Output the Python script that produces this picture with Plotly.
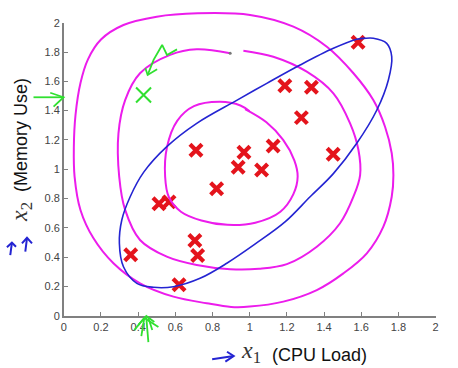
import plotly.graph_objects as go

W, H = 458, 368

# ---- data: red training examples ----
cpu_load = [1.583, 1.189, 1.332, 1.278, 1.126, 1.449, 0.711, 0.969, 0.938, 1.064,
            0.822, 0.512, 0.566, 0.705, 0.720, 0.360, 0.620]
memory_use = [1.866, 1.570, 1.559, 1.352, 1.159, 1.102, 1.130, 1.116, 1.014, 0.995,
              0.866, 0.764, 0.777, 0.514, 0.411, 0.416, 0.211]

# anomalous example (green)
anomaly_x = [0.429]
anomaly_y = [1.507]

tick_vals = [0, 0.2, 0.4, 0.6, 0.8, 1, 1.2, 1.4, 1.6, 1.8, 2]
tick_text = ["0", "0.2", "0.4", "0.6", "0.8", "1", "1.2", "1.4", "1.6", "1.8", "2"]

# ---- hand-drawn annotation curves (traced, data units) ----
inner_x = [0.975, 1.09, 1.18, 1.24, 1.258, 1.235, 1.165, 1.03, 0.88, 0.74, 0.63, 0.565,
           0.545, 0.555, 0.61, 0.70, 0.84, 0.95, 1.0]
inner_y = [1.41, 1.32, 1.20, 1.06, 0.95, 0.83, 0.71, 0.635, 0.62, 0.65, 0.71, 0.81,
           0.95, 1.15, 1.33, 1.43, 1.46, 1.435, 1.395]

middle_x = [0.966, 1.127, 1.307, 1.45, 1.54, 1.585, 1.594, 1.558, 1.486, 1.361, 1.20, 1.05,
            0.895, 0.715, 0.554, 0.41, 0.33, 0.298, 0.294, 0.33, 0.41, 0.572, 0.715, 0.895]
middle_y = [1.809, 1.768, 1.666, 1.518, 1.313, 1.131, 0.96, 0.812, 0.631, 0.471, 0.352, 0.32,
            0.317, 0.346, 0.403, 0.517, 0.722, 0.95, 1.245, 1.472, 1.655, 1.78, 1.818, 1.791]

outer_x = [0.72, 1.002, 1.235, 1.415, 1.558, 1.665, 1.728, 1.764, 1.773, 1.764, 1.719, 1.63,
           1.504, 1.361, 1.181, 1.0, 0.9, 0.769, 0.59, 0.41, 0.267, 0.159, 0.09, 0.058,
           0.054, 0.063, 0.09, 0.13, 0.2, 0.321, 0.5, 0.72]
outer_y = [2.064, 2.053, 1.973, 1.836, 1.655, 1.472, 1.29, 1.109, 0.96, 0.812, 0.608, 0.426,
           0.289, 0.175, 0.096, 0.062, 0.06, 0.085, 0.13, 0.221, 0.358, 0.53, 0.72, 0.95,
           1.15, 1.37, 1.59, 1.75, 1.885, 1.984, 2.041, 2.064]

blue_x = [1.60, 1.665, 1.737, 1.764, 1.746, 1.684, 1.576, 1.45, 1.325, 1.19, 1.03, 0.877,
          0.733, 0.59, 0.482, 0.393, 0.321, 0.299, 0.312, 0.357, 0.43, 0.554, 0.715, 0.93,
          1.092, 1.271, 1.45, 1.576, 1.62]
blue_y = [1.89, 1.894, 1.859, 1.768, 1.609, 1.404, 1.177, 0.97, 0.812, 0.64, 0.49, 0.358,
          0.255, 0.198, 0.194, 0.221, 0.334, 0.494, 0.653, 0.812, 0.98, 1.154, 1.313, 1.47,
          1.586, 1.711, 1.825, 1.887, 1.895]

pen_dot_x = [0.895]
pen_dot_y = [1.791]

green_x = [-0.163, -0.001, None, -0.073, -0.001, -0.055, None,
           0.609, 0.555, 0.529, 0.483, 0.451, None, 0.439, 0.451, 0.502, None,
           0.417, 0.433, None, 0.455, 0.444, None, 0.476, 0.455, None,
           0.379, 0.433, 0.509, None, 0.401, 0.444, 0.487]
green_y = [1.491, 1.491, None, 1.522, 1.491, 1.427, None,
           1.818, 1.780, 1.848, 1.746, 1.643, None, 1.689, 1.643, 1.682, None,
           -0.139, -0.016, None, -0.180, -0.016, None, -0.098, -0.016, None,
           -0.098, -0.016, -0.077, None, -0.063, -0.002, -0.043]

bluearrow_x = [-0.288, -0.279, None, -0.306, -0.279, -0.257, None,
               -0.207, -0.198, None, -0.225, -0.198, -0.171, None,
               0.798, 0.914, None, 0.878, 0.914, 0.869]
bluearrow_y = [0.414, 0.498, None, 0.467, 0.498, 0.471, None,
               0.437, 0.532, None, 0.494, 0.532, 0.494, None,
               -0.298, -0.275, None, -0.246, -0.275, -0.314]

# ---- layout geometry ----
xd = [63.8 / W, 435.6 / W]
yd = [1 - 315.7 / H, 1 - 22.7 / H]
xr = [0, 2]
yr = [0, 2]
sx = (xr[1] - xr[0]) / (xd[1] - xd[0])
sy = (yr[1] - yr[0]) / (yd[1] - yd[0])
x2r = [xr[0] - xd[0] * sx, xr[1] + (1 - xd[1]) * sx]
y2r = [yr[0] - yd[0] * sy, yr[1] + (1 - yd[1]) * sy]

MAG = "#ec1cec"
BLU = "#2424d2"
GRN = "#30e030"
RED = "#e4141c"

fig = go.Figure()

fig.add_trace(go.Scatter(x=cpu_load, y=memory_use, mode="markers",
                         marker=dict(symbol="x-thin", size=12, color=RED,
                                     line=dict(width=4.2, color=RED)),
                         xaxis="x", yaxis="y", showlegend=False, cliponaxis=False))

for cx, cy, col, w in [(inner_x, inner_y, MAG, 2), (middle_x, middle_y, MAG, 2),
                       (outer_x, outer_y, MAG, 2), (blue_x, blue_y, BLU, 1.6)]:
    fig.add_trace(go.Scatter(x=cx, y=cy, mode="lines",
                             line=dict(color=col, width=w, shape="spline", smoothing=1.0),
                             xaxis="x2", yaxis="y2", showlegend=False))

fig.add_trace(go.Scatter(x=pen_dot_x, y=pen_dot_y, mode="markers",
                         marker=dict(size=3, color="#777"),
                         xaxis="x2", yaxis="y2", showlegend=False))
fig.add_trace(go.Scatter(x=green_x, y=green_y, mode="lines",
                         line=dict(color=GRN, width=1.8),
                         xaxis="x2", yaxis="y2", showlegend=False))
fig.add_trace(go.Scatter(x=bluearrow_x, y=bluearrow_y, mode="lines",
                         line=dict(color=BLU, width=2),
                         xaxis="x2", yaxis="y2", showlegend=False))
fig.add_trace(go.Scatter(x=anomaly_x, y=anomaly_y, mode="markers",
                         marker=dict(symbol="x-thin", size=15, color=GRN,
                                     line=dict(width=2, color=GRN)),
                         xaxis="x2", yaxis="y2", showlegend=False))

axis_common = dict(showline=True, linecolor="#808080", linewidth=1.5, ticks="inside",
                   ticklen=4, tickcolor="#808080", tickwidth=1.2, showgrid=False,
                   zeroline=False, tickvals=tick_vals, ticktext=tick_text, automargin=False,
                   tickfont=dict(family="Arial", size=11, color="#444"), fixedrange=True)

fig.update_layout(
    template="none",
    width=W, height=H,
    margin=dict(l=0, r=0, t=0, b=0, autoexpand=False),
    paper_bgcolor="white", plot_bgcolor="rgba(0,0,0,0)",
    hovermode=False,
    xaxis=dict(domain=xd, range=xr, anchor="y", mirror=False, **axis_common),
    yaxis=dict(domain=yd, range=yr, anchor="x", mirror=False, **axis_common),
    xaxis2=dict(domain=[0, 1], range=x2r, anchor="y2", visible=False, fixedrange=True,
                automargin=False),
    yaxis2=dict(domain=[0, 1], range=y2r, anchor="x2", visible=False, fixedrange=True,
                automargin=False),
    annotations=[
        dict(text="<i>x</i><sub>1</sub>", xref="paper", yref="paper",
             x=239 / W, y=1 - 352 / H, xanchor="left", yanchor="middle", showarrow=False,
             font=dict(family="Liberation Serif", size=24, color="#333")),
        dict(text="(CPU Load)", xref="paper", yref="paper",
             x=319 / W, y=1 - 355 / H, xanchor="center", yanchor="middle", showarrow=False,
             font=dict(family="Arial", size=18, color="#111")),
        dict(text="<i>x</i><sub>2</sub>", xref="paper", yref="paper", textangle=-90,
             x=21 / W, y=1 - 212 / H, xanchor="center", yanchor="middle", showarrow=False,
             font=dict(family="Liberation Serif", size=24, color="#333")),
        dict(text="(Memory Use)", xref="paper", yref="paper", textangle=-90,
             x=21 / W, y=1 - 135 / H, xanchor="center", yanchor="middle", showarrow=False,
             font=dict(family="Arial", size=18, color="#111")),
    ],
)

fig.write_html("out.html", config={"displayModeBar": False},
               post_script="document.body.style.margin='0';document.body.style.padding='0';"
                           "document.body.style.overflow='hidden';")
